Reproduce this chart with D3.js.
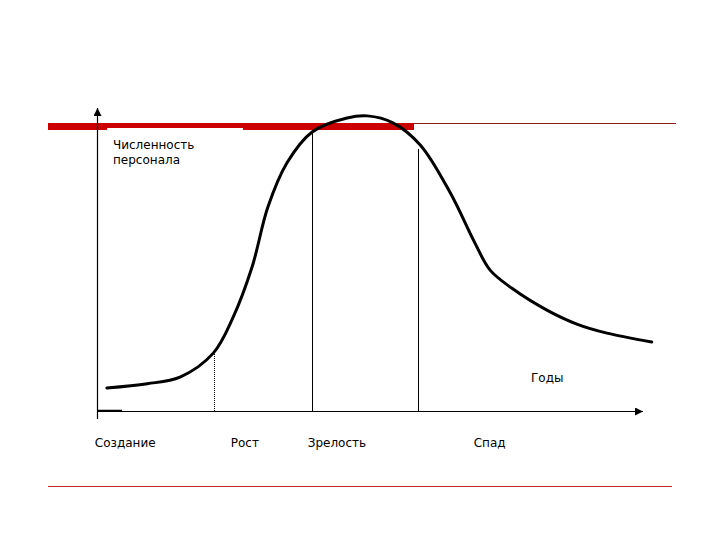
<!DOCTYPE html>
<html><head><meta charset="utf-8">
<script src="https://cdn.jsdelivr.net/npm/d3@7"></script>
<style>body{margin:0;background:#fff}svg{display:block}</style>
</head><body>
<script>
// Data
const curveX = [1.8,9.2,15.2,21.3,24.9,28.4,31.3,34.8,39.4,45.8,49.5,54.2,59.2,64.7,69.2,72.0,76.0,82.4,88.0,93.4,101.6];
const curveY = [7.6,9.0,11.2,19.1,30.8,47.5,67.3,81.9,92.1,96.7,97.4,95.1,87.8,72.0,55.5,46.5,40.5,33.3,28.6,25.7,22.8];
const stageNames = ["Создание","Рост","Зрелость","Спад"];
const stageLabelX = [-0.4,24.5,38.6,69.0];
const boundaryX = [21.4,39.4,58.8];
const boundaryTop = [19.1,92.1,86.5];
const yTitle = ["Численность","персонала"];
const xTitle = "Годы";

const W=720,H=540;
const svg=d3.select("body").append("svg").attr("width",W).attr("height",H);
const x=d3.scaleLinear().domain([0,100]).range([97,643]);
const y=d3.scaleLinear().domain([0,100]).range([411,108]);
const font="DejaVu Sans, Verdana, sans-serif";

// decorative red lines
svg.append("rect").attr("x",48).attr("y",123).attr("width",366).attr("height",7).attr("fill","#cc0000");
svg.append("rect").attr("x",107).attr("y",128).attr("width",136).attr("height",3).attr("fill","#fff");
svg.append("line").attr("x1",414).attr("x2",676).attr("y1",123.5).attr("y2",123.5).attr("stroke","#8b1a1a").attr("stroke-width",1);
svg.append("line").attr("x1",48).attr("x2",672).attr("y1",486.5).attr("y2",486.5).attr("stroke","#c0282d").attr("stroke-width",1);

// arrow marker
svg.append("defs").append("marker").attr("id","arr").attr("viewBox","0 0 10 10")
  .attr("refX",10).attr("refY",5).attr("markerWidth",8).attr("markerHeight",8).attr("markerUnits","userSpaceOnUse")
  .attr("orient","auto").append("path").attr("d","M0,0L10,5L0,10z").attr("fill","#000");

// axes
svg.append("line").attr("x1",x(0)).attr("x2",x(100)).attr("y1",y(0)+0.5).attr("y2",y(0)+0.5)
  .attr("stroke","#000").attr("stroke-width",1.2).attr("marker-end","url(#arr)");
svg.append("line").attr("x1",x(0)+0.5).attr("x2",x(0)+0.5).attr("y1",y(0)+8).attr("y2",y(100))
  .attr("stroke","#000").attr("stroke-width",1.2).attr("marker-end","url(#arr)");
svg.append("line").attr("x1",x(0)).attr("x2",x(4.6)).attr("y1",y(0)-0.5).attr("y2",y(0)-0.5)
  .attr("stroke","#000").attr("stroke-width",1.5);

// boundaries
boundaryX.forEach((b,i)=>{
  svg.append("line").attr("x1",Math.round(x(b))+0.5).attr("x2",Math.round(x(b))+0.5)
    .attr("y1",y(0)).attr("y2",y(boundaryTop[i]))
    .attr("stroke","#000").attr("stroke-width",1)
    .attr("stroke-dasharray",i===0?"1,1":null);
});

// curve
const pts=curveX.map((v,i)=>[v,curveY[i]]);
svg.append("path").datum(pts)
  .attr("d",d3.line().x(d=>x(d[0])).y(d=>y(d[1])).curve(d3.curveCatmullRom.alpha(0.5)))
  .attr("fill","none").attr("stroke","#000").attr("stroke-width",3).attr("stroke-linecap","round");

// texts
svg.selectAll("text.yt").data(yTitle).enter().append("text")
  .attr("x",113).attr("y",(d,i)=>149+i*15).text(d=>d)
  .attr("font-family",font).attr("font-size",12).attr("fill","#000");
svg.append("text").attr("x",531).attr("y",382).text(xTitle)
  .attr("font-family",font).attr("font-size",12).attr("fill","#000");
svg.selectAll("text.st").data(stageNames).enter().append("text")
  .attr("x",(d,i)=>x(stageLabelX[i])).attr("y",447).text(d=>d)
  .attr("font-family",font).attr("font-size",12).attr("fill","#000");
</script>
</body></html>
